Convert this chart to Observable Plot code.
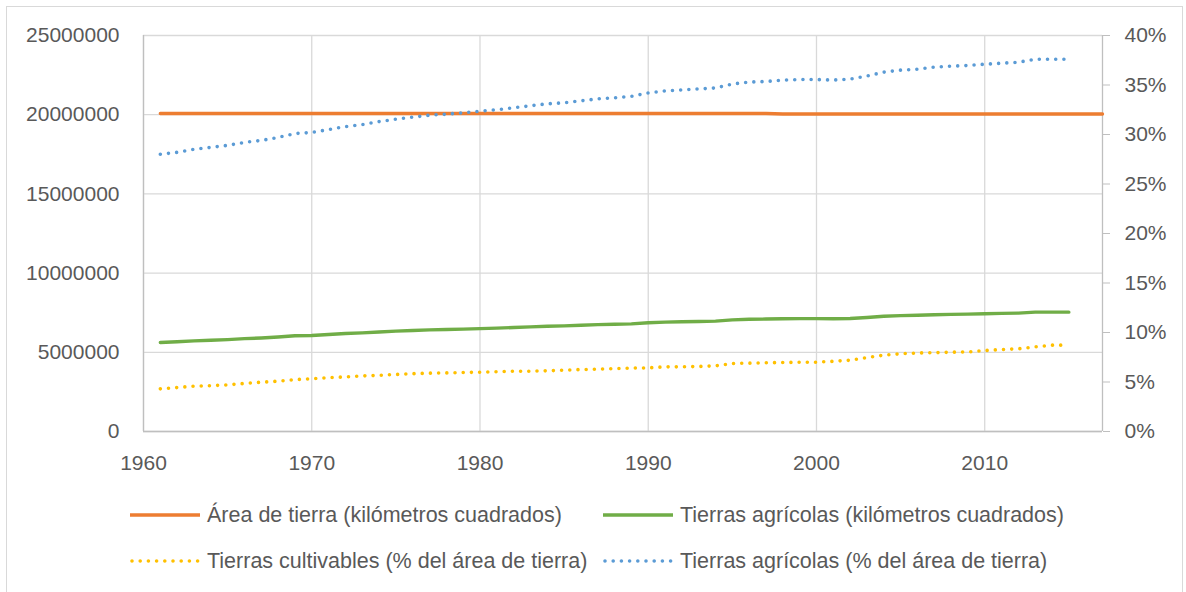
<!DOCTYPE html>
<html>
<head>
<meta charset="utf-8">
<script src="https://cdn.jsdelivr.net/npm/d3@7"></script>
<script src="https://cdn.jsdelivr.net/npm/@observablehq/plot@0.6"></script>
<style>
  body { margin: 0; background: #fff; }
  #wrap { position: relative; width: 1186px; height: 592px; overflow: hidden; font-family: "Liberation Sans", Arial, sans-serif; color: #595959; }
  #frame { position: absolute; left: 6px; top: 6px; width: 1177px; height: 640px; border: 1px solid #d9d9d9; box-sizing: border-box; }
  #chart { position: absolute; left: 0; top: 0; }
  .item { position: absolute; display: flex; align-items: center; font-size: 21.5px; white-space: nowrap; height: 30px; }
  .item svg { margin-right: 7px; }
</style>
</head>
<body>
<div id="wrap">
  <div id="frame"></div>
  <div id="chart"></div>
  <div id="legend"></div>
</div>
<script>
// ---- Data ----
const years = [1961,1962,1963,1964,1965,1966,1967,1968,1969,1970,
               1971,1972,1973,1974,1975,1976,1977,1978,1979,1980,
               1981,1982,1983,1984,1985,1986,1987,1988,1989,1990,
               1991,1992,1993,1994,1995,1996,1997,1998,1999,2000,
               2001,2002,2003,2004,2005,2006,2007,2008,2009,2010,
               2011,2012,2013,2014,2015,2016,2017];

// Área de tierra (km²), 1961–2017
const landArea = [20080000,20080000,20080000,20080000,20080000,20080000,20080000,20080000,20080000,20080000,
                  20080000,20080000,20080000,20080000,20080000,20080000,20080000,20080000,20080000,20080000,
                  20080000,20080000,20080000,20080000,20080000,20080000,20080000,20080000,20080000,20080000,
                  20080000,20080000,20080000,20080000,20080000,20080000,20080000,20040000,20040000,20040000,
                  20040000,20040000,20040000,20040000,20040000,20040000,20040000,20040000,20040000,20040000,
                  20040000,20040000,20040000,20040000,20040000,20040000,20040000];

// Tierras agrícolas (km²), 1961–2015
const agriKm2 = [5622000,5663000,5723000,5763000,5803000,5863000,5904000,5964000,6044000,6064000,
                 6124000,6185000,6225000,6285000,6335000,6375000,6416000,6436000,6466000,6496000,
                 6526000,6566000,6606000,6646000,6667000,6707000,6747000,6767000,6797000,6867000,
                 6908000,6928000,6948000,6968000,7048000,7088000,7098000,7114000,7124000,7124000,
                 7114000,7134000,7194000,7275000,7315000,7335000,7375000,7395000,7409000,7435000,
                 7455000,7475000,7535000,7535000,7535000];

// Tierras cultivables (% del área de tierra), 1961–2015
const arablePct = [4.31,4.44,4.58,4.63,4.71,4.85,4.98,5.08,5.24,5.32,
                   5.44,5.51,5.61,5.67,5.76,5.84,5.89,5.92,5.96,5.99,
                   6.03,6.09,6.09,6.13,6.19,6.26,6.29,6.36,6.40,6.43,
                   6.53,6.53,6.57,6.63,6.87,6.90,6.94,6.97,6.99,7.00,
                   7.09,7.20,7.47,7.71,7.85,7.93,7.96,8.01,8.03,8.18,
                   8.28,8.35,8.55,8.72,8.72];

// Tierras agrícolas (% del área de tierra), 1961–2015
const agriPct = [28.0,28.2,28.5,28.7,28.9,29.2,29.4,29.7,30.1,30.2,
                 30.5,30.8,31.0,31.3,31.55,31.75,31.95,32.05,32.2,32.35,
                 32.5,32.7,32.9,33.1,33.2,33.4,33.6,33.7,33.85,34.2,
                 34.4,34.5,34.6,34.7,35.1,35.3,35.35,35.5,35.55,35.55,
                 35.5,35.6,35.9,36.3,36.5,36.6,36.8,36.9,36.97,37.1,
                 37.2,37.3,37.6,37.6,37.6];

const xTicks = [1960,1970,1980,1990,2000,2010];
const leftTicks = [0,5000000,10000000,15000000,20000000,25000000];
const rightTicks = [0,5,10,15,20,25,30,35,40];

const seriesNames = ["Área de tierra (kilómetros cuadrados)",
                     "Tierras agrícolas (kilómetros cuadrados)",
                     "Tierras cultivables (% del área de tierra)",
                     "Tierras agrícolas (% del área de tierra)"];
const seriesColors = ["#ED7D31","#70AD47","#FFC000","#5B9BD5"];

// ---- Build tables ----
const PCT = 25000000 / 40; // secondary axis: 40% at top of primary 25,000,000
const landRows = years.map((yr, i) => ({year: yr, v: landArea[i]}));
const agriRows = agriKm2.map((v, i) => ({year: years[i], v}));
const arableRows = arablePct.map((p, i) => ({year: years[i], v: p * PCT}));
const agriPctRows = agriPct.map((p, i) => ({year: years[i], v: p * PCT}));

const W = 1186, H = 480;
const grid = "#d9d9d9", axisCol = "#bfbfbf";

const chart = Plot.plot({
  width: W,
  height: H,
  marginLeft: 143,
  marginRight: 84,
  marginTop: 35,
  marginBottom: 49,
  style: {fontFamily: '"Liberation Sans", Arial, sans-serif', fontSize: "21px", color: "#595959", background: "transparent"},
  x: {domain: [1960, 2017], label: null},
  y: {domain: [0, 25000000], label: null},
  marks: [
    Plot.gridX(xTicks, {stroke: grid, strokeOpacity: 1, strokeWidth: 1.3}),
    Plot.gridY(leftTicks, {stroke: grid, strokeOpacity: 1, strokeWidth: 1.3}),
    Plot.ruleX([1960, 2017], {stroke: axisCol, strokeWidth: 1.3}),
    Plot.ruleY([0], {stroke: axisCol, strokeWidth: 1.3}),
    Plot.axisX(xTicks, {label: null, tickSize: 0, tickPadding: 24, tickFormat: d => String(d), fill: "#595959"}),
    Plot.axisY(leftTicks, {label: null, anchor: "left", tickSize: 0, tickPadding: 24, tickFormat: d => String(d), fill: "#595959"}),
    Plot.axisY(rightTicks.map(p => p * PCT), {label: null, anchor: "right", tickSize: 7, tickPadding: 15, stroke: axisCol, tickFormat: d => Math.round(d / PCT) + "%", fill: "#595959"}),
    Plot.line(landRows, {x: "year", y: "v", stroke: seriesColors[0], strokeWidth: 3.4}),
    Plot.line(agriRows, {x: "year", y: "v", stroke: seriesColors[1], strokeWidth: 3.4, strokeLinecap: "round"}),
    Plot.line(arableRows, {x: "year", y: "v", stroke: seriesColors[2], strokeWidth: 3.6, strokeDasharray: "0 8.2", strokeLinecap: "round"}),
    Plot.line(agriPctRows, {x: "year", y: "v", stroke: seriesColors[3], strokeWidth: 3.6, strokeDasharray: "0 8.2", strokeLinecap: "round"})
  ]
});
document.getElementById("chart").appendChild(chart);

// ---- Legend ----
const legendPos = [[130, 515], [603, 515], [130, 561], [603, 561]];
const legend = document.getElementById("legend");
seriesNames.forEach((name, i) => {
  const div = document.createElement("div");
  div.className = "item";
  div.style.left = legendPos[i][0] + "px";
  div.style.top = (legendPos[i][1] - 15) + "px";
  const dotted = i >= 2;
  div.innerHTML = `<svg width="70" height="10"><line x1="${dotted ? 2 : 0}" x2="${dotted ? 68 : 70}" y1="5" y2="5" stroke="${seriesColors[i]}" stroke-width="${dotted ? 3.6 : 3.4}" ${dotted ? 'stroke-dasharray="0 8.2" stroke-linecap="round"' : ''}/></svg><span>${name}</span>`;
  legend.appendChild(div);
});
</script>
</body>
</html>
